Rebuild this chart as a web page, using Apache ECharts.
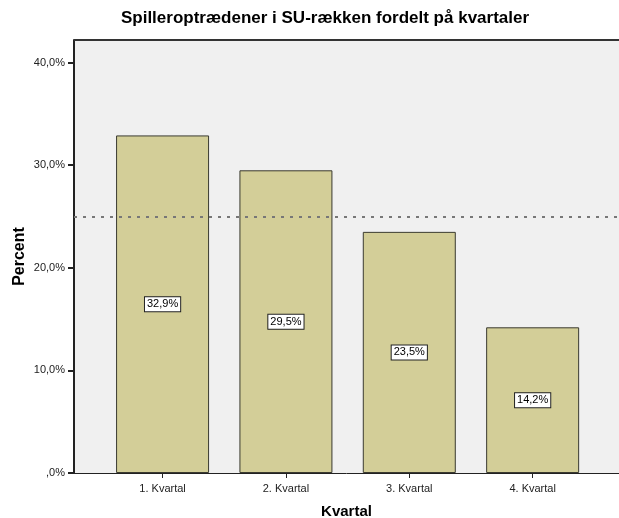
<!DOCTYPE html>
<html>
<head>
<meta charset="utf-8">
<script src="https://cdn.jsdelivr.net/npm/echarts@6/dist/echarts.min.js"></script>
<style>
  html, body { margin: 0; padding: 0; background: #fff; }
  #chart { width: 619px; height: 518px; }
</style>
</head>
<body>
<div id="chart"></div>
<script>
// data
var categories = ['1. Kvartal', '2. Kvartal', '3. Kvartal', '4. Kvartal'];
var percents = [32.9, 29.5, 23.5, 14.2];
var yTicks = [0, 10, 20, 30, 40];
var refLine = 25;

function fmtPct(v) {
  // SPSS style: ",0%" for zero, comma decimal
  var s = v.toFixed(1).replace('.', ',');
  if (s.indexOf('0,') === 0) s = s.substring(1);
  return s + '%';
}

var barData = [];
for (var i = 0; i < percents.length; i++) {
  barData.push([i + 1, percents[i]]);
}

var chart = echarts.init(document.getElementById('chart'));
var option = {
  animation: false,
  backgroundColor: '#ffffff',
  title: {
    text: 'Spilleroptrædener i SU-rækken fordelt på kvartaler',
    left: 320,
    textAlign: 'center',
    top: 5,
    textStyle: { fontFamily: 'Liberation Sans', fontSize: 17, fontWeight: 'bold', color: '#000' }
  },
  grid: {
    left: 74, top: 40, right: 0, bottom: 45,
    outerBoundsMode: 'none',
    containLabel: false,
    show: true,
    backgroundColor: '#f0f0f0',
    borderWidth: 0
  },
  xAxis: {
    type: 'value',
    min: 0.282,
    max: 4.70,
    name: 'Kvartal',
    nameLocation: 'middle',
    nameGap: 31,
    nameMoveOverlap: false,
    nameTextStyle: { fontFamily: 'Liberation Sans', fontSize: 15, fontWeight: 'bold', color: '#000' },
    splitLine: { show: false },
    axisLine: { show: true, lineStyle: { color: '#222', width: 1 } },
    axisTick: { show: true, length: 5, customValues: [1, 2, 3, 4], lineStyle: { color: '#222' } },
    axisLabel: {
      customValues: [1, 2, 3, 4],
      margin: 10,
      fontFamily: 'Liberation Sans', fontSize: 11, color: '#222',
      formatter: function (v) { return categories[Math.round(v) - 1] || ''; }
    }
  },
  yAxis: {
    type: 'value',
    min: 0,
    max: 42.2,
    name: 'Percent',
    nameLocation: 'middle',
    nameGap: 46,
    nameMoveOverlap: false,
    nameRotate: 90,
    nameTextStyle: { fontFamily: 'Liberation Sans', fontSize: 16, fontWeight: 'bold', color: '#000' },
    splitLine: { show: false },
    axisLine: { show: true, lineStyle: { color: '#222', width: 2 } },
    axisTick: { show: true, length: 6, customValues: yTicks, lineStyle: { color: '#222', width: 2 } },
    axisLabel: {
      customValues: yTicks,
      margin: 9,
      fontFamily: 'Liberation Sans', fontSize: 11, color: '#222',
      formatter: function (v) { return fmtPct(v); }
    }
  },
  graphic: [{
    type: 'line',
    shape: { x1: 74, y1: 40, x2: 619, y2: 40 },
    style: { stroke: '#333', lineWidth: 2 },
    z: 10
  }],
  series: [{
    type: 'bar',
    data: barData,
    barWidth: 93,
    itemStyle: { color: '#d3ce98', borderColor: '#3a3a30', borderWidth: 1 },
    label: {
      show: true,
      position: 'inside',
      formatter: function (p) { return fmtPct(p.value[1]); },
      fontFamily: 'Liberation Sans', fontSize: 11, color: '#000',
      backgroundColor: '#fff',
      borderColor: '#222',
      borderWidth: 1,
      padding: [2, 2, 1, 2]
    },
    markLine: {
      silent: true,
      symbol: 'none',
      label: { show: false },
      lineStyle: { color: '#777', type: [3, 6], width: 2 },
      data: [{ yAxis: refLine }],
      z: 5
    }
  }]
};
chart.setOption(option);
</script>
</body>
</html>
